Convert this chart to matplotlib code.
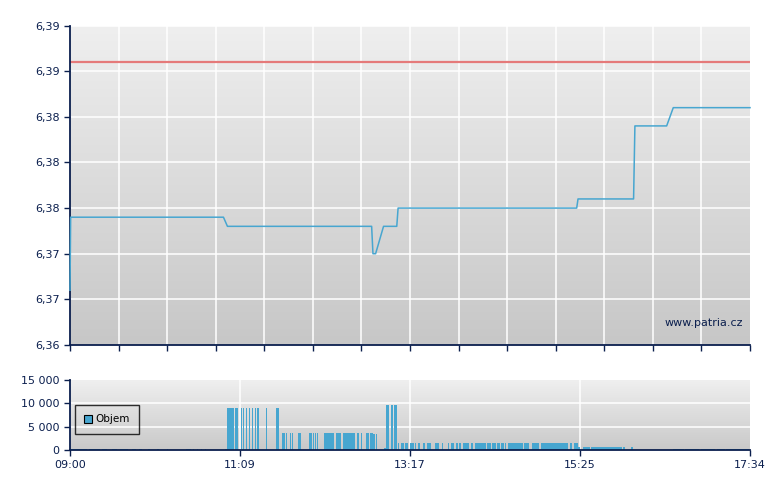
import numpy as np
import matplotlib.pyplot as plt
from matplotlib.colors import LinearSegmentedColormap

plt.rcParams.update({'font.size': 8, 'font.family': 'DejaVu Sans'})

# price trades (time, price)
price_time = ["09:00", "09:00.5", "10:56", "10:59", "12:48", "12:49", "12:51",
              "12:57", "13:07", "13:08", "15:23", "15:24", "16:06", "16:07",
              "16:31", "16:36", "17:34"]
price_val = [6.3688, 6.3752, 6.3752, 6.3744, 6.3744, 6.3720, 6.3720,
             6.3744, 6.3744, 6.3760, 6.3760, 6.3768, 6.3768, 6.3832,
             6.3832, 6.3848, 6.3848]
prev_close = 6.3888

# volume blocks: start time, duration (min), volume
vol_start = ["09:00", "09:14", "09:24", "09:32", "09:38", "09:47", "09:52", "09:59",
             "10:06", "10:13", "10:28", "10:33", "10:36", "10:39", "10:42", "10:57",
             "10:59", "11:05", "11:09", "11:11", "11:13", "11:15", "11:17.5", "11:20",
             "11:21", "11:28", "11:36",
             "11:40", "11:43", "11:46", "11:48", "11:52", "12:01", "12:04", "12:05",
             "12:07", "12:12", "12:21", "12:26", "12:27", "12:29", "12:37", "12:40",
             "12:44", "12:47", "12:49", "12:51",
             "12:57", "12:59", "13:03", "13:05", "13:06",
             "13:08", "13:10", "13:13", "13:17", "13:21", "13:23", "13:24", "13:27",
             "13:30", "13:36", "13:41", "13:46", "13:48", "13:49", "13:52", "13:54",
             "13:57", "13:58", "14:03", "14:04", "14:06", "14:15", "14:16", "14:19",
             "14:23", "14:26", "14:29", "14:31", "14:43", "14:49", "14:56", "15:10",
             "15:18", "15:21",
             "15:24", "15:28", "15:34", "15:58", "16:04",
             "16:36", "16:45", "16:57", "17:09", "17:16"]
vol_dur = [13, 9, 4, 4, 6, 3, 3, 1.5,
           1.5, 1.5, 4, 1, 1, 1, 1, 1.5,
           5.3, 2, 1, 1, 1, 1, 1, 1,
           2, 1, 2.3,
           2.5, 1.5, 1, 1, 2.5, 2.5, 1, 1,
           1, 8, 4, 1, 2, 7, 2, 1,
           2, 2, 1.5, 1,
           2, 2.5, 1, 1, 1,
           1, 2.5, 3, 3, 1, 1, 1, 1.5,
           3, 3, 1, 1, 1, 1.5, 1.5, 1.5,
           1, 4, 1, 1, 8.5, 1, 2.5, 3,
           2.5, 2.5, 1, 11.5, 4.5, 6, 13.5, 7,
           1.5, 3,
           2, 5, 23.5, 1.5, 2,
           8, 11, 11, 6, 17.5]
vol_val = [300, 300, 300, 300, 300, 300, 300, 300,
           300, 300, 300, 300, 300, 300, 300, 300,
           9100, 9100, 9100, 9100, 9100, 9100, 9100, 9100,
           9100, 9100, 9100,
           3700, 3700, 3700, 3700, 3700, 3700, 3700, 3700,
           3700, 3700, 3700, 3700, 3700, 3700, 3700, 3700,
           3700, 3700, 3500, 3500,
           450, 9750, 9750, 9750, 9750,
           1500, 1500, 1500, 1500, 1500, 1500, 1500, 1500,
           1500, 1500, 1500, 1500, 1500, 1500, 1500, 1500,
           1500, 1500, 1500, 1500, 1500, 1500, 1500, 1500,
           1500, 1500, 1500, 1500, 1500, 1500, 1500, 1500,
           1500, 1500,
           650, 650, 650, 650, 700,
           200, 200, 200, 200, 200]

y_ticks = [6.364, 6.368, 6.372, 6.376, 6.380, 6.384, 6.388, 6.392]
y_labels = ['6,36', '6,37', '6,37', '6,38', '6,38', '6,38', '6,39', '6,39']
x_labels = ['09:00', '11:09', '13:17', '15:25', '17:34']
vol_ticks = [0, 5000, 10000, 15000]
vol_labels = ['0', '5 000', '10 000', '15 000']


def to_min(s):
    h, m = s.split(':')
    return (int(h) - 9) * 60 + float(m)


T_END = to_min("17:34")
navy = '#0b1f4e'
blue = '#47a6d0'

fig = plt.figure(figsize=(7.8, 4.9), dpi=100)
ax = fig.add_axes([70 / 780, 145 / 490, 680 / 780, 319.5 / 490])
axv = fig.add_axes([70 / 780, 40 / 490, 680 / 780, 70 / 490])


def gradient(a, top, bottom):
    g = np.linspace(0, 1, 256).reshape(-1, 1)
    cmap = LinearSegmentedColormap.from_list('g', [top, bottom])
    a.imshow(g, aspect='auto', cmap=cmap, extent=[0, 1, 0, 1],
             transform=a.transAxes, zorder=0)


gradient(ax, '#efefef', '#c7c7c7')
gradient(axv, '#efefef', '#c9c9c9')

# ---------- price panel ----------
xs = [to_min(t) for t in price_time]
ax.plot(xs, price_val, color=blue, lw=1.1, zorder=6, clip_on=False)
ax.axhline(prev_close, color='#e57a7a', lw=1.6, zorder=3)

ax.set_xlim(0, T_END)
ax.set_ylim(y_ticks[0], y_ticks[-1])
ax.set_yticks(y_ticks)
ax.set_yticklabels(y_labels)
grid_x = np.linspace(0, T_END, 15)
ax.set_xticks(grid_x)
ax.set_xticklabels([])
for gx in grid_x[1:-1]:
    ax.axvline(gx, color='white', lw=1.1, zorder=1)
for gy in y_ticks[1:]:
    ax.axhline(gy, color='white', lw=1.1, zorder=1)
ax.text(0.99, 0.07, 'www.patria.cz', transform=ax.transAxes, ha='right',
        va='center', color=navy, fontsize=8, zorder=4)

# ---------- volume panel ----------
vx = [to_min(t) for t in vol_start]
axv.bar(vx, vol_val, width=[d - 0.2 for d in vol_dur], align='edge',
        color=blue, zorder=3, label='Objem', edgecolor='none')
axv.set_xlim(0, T_END)
axv.set_ylim(0, 15000)
axv.set_yticks(vol_ticks)
axv.set_yticklabels(vol_labels)
lab_x = np.linspace(0, T_END, 5)
axv.set_xticks(lab_x)
axv.set_xticklabels(x_labels)
for gx in lab_x[1:-1]:
    axv.axvline(gx, color='white', lw=1.1, zorder=1)
for gy in vol_ticks[1:3]:
    axv.axhline(gy, color='white', lw=1.1, zorder=1)

leg = axv.legend(loc='upper left', bbox_to_anchor=(0.007, 0.643), frameon=True,
                 fancybox=False, edgecolor='black', facecolor='none',
                 handlelength=0.75, handleheight=0.8, borderpad=0.9,
                 borderaxespad=0, handletextpad=0.35, fontsize=7.5)
leg.get_frame().set_linewidth(1.0)
for h in leg.legend_handles:
    h.set_edgecolor('black')
    h.set_linewidth(0.8)

for a in (ax, axv):
    for s in ('top', 'right'):
        a.spines[s].set_visible(False)
    for s in ('left', 'bottom'):
        a.spines[s].set_color(navy)
        a.spines[s].set_linewidth(1.3)
        a.spines[s].set_zorder(5)
    a.tick_params(colors=navy, labelcolor=navy, length=4, width=1, labelsize=8)

fig.savefig('out.png', dpi=100)
